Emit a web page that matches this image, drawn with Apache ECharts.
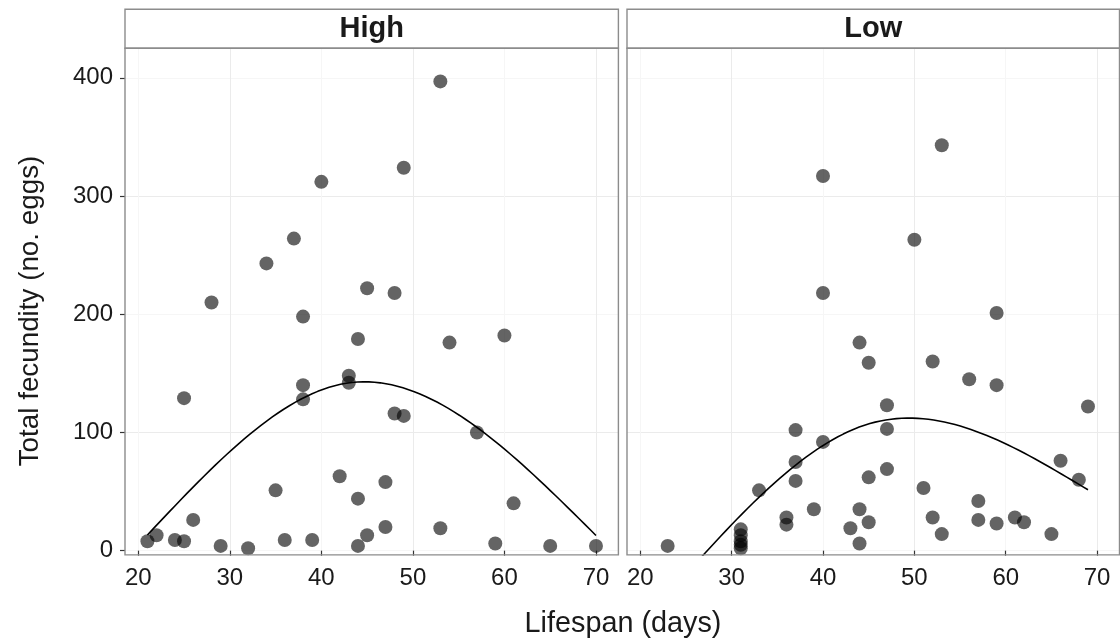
<!DOCTYPE html>
<html>
<head>
<meta charset="utf-8">
<script src="https://cdn.jsdelivr.net/npm/echarts@6.0.0/dist/echarts.min.js"></script>
<style>
  html, body { margin: 0; padding: 0; background: #fff; }
  #chart { width: 1120px; height: 644px; }
</style>
</head>
<body>
<div id="chart"></div>
<script>
// ---- data ----
const panels = ['High', 'Low'];
const highLifespan  = [21,22,24,25,25,26,28,29,32,34,35,36,37,38,38,38,39,40,42,43,43,44,44,44,45,45,47,47,48,48,49,49,53,53,54,57,59,60,61,65,70];
const highFecundity = [8,13,9,8,129,26,210,4,2,243,51,9,264,198,140,128,9,312,63,148,142,179,44,4,222,13,58,20,218,116,324,114,397,19,176,100,6,182,40,4,4];
const lowLifespan   = [23,31,31,31,31,31,33,36,36,37,37,37,39,40,40,40,43,44,44,44,45,45,45,47,47,47,50,51,52,52,53,53,56,57,57,59,59,59,61,62,65,66,68,69];
const lowFecundity  = [4,18,13,8,5,2,51,28,22,102,75,59,35,317,218,92,19,176,35,6,159,62,24,123,103,69,263,53,160,28,343,14,145,42,26,201,140,23,28,24,14,76,60,122];
const xTicks = [20, 30, 40, 50, 60, 70];
const yTicks = [0, 100, 200, 300, 400];
const xTitle = 'Lifespan (days)';
const yTitle = 'Total fecundity (no. eggs)';

// ---- smoother: least-squares natural cubic spline (2 df) fitted to the points ----
function solve(A, b) {
  const n = b.length;
  const M = A.map((r, i) => r.concat([b[i]]));
  for (let c = 0; c < n; c++) {
    let p = c;
    for (let r = c + 1; r < n; r++) if (Math.abs(M[r][c]) > Math.abs(M[p][c])) p = r;
    [M[c], M[p]] = [M[p], M[c]];
    for (let r = 0; r < n; r++) {
      if (r === c) continue;
      const f = M[r][c] / M[c][c];
      for (let k = c; k <= n; k++) M[r][k] -= f * M[c][k];
    }
  }
  return M.map((r, i) => r[n] / r[i]);
}
function quantile(xs, p) {
  const s = xs.slice().sort((a, b) => a - b);
  const h = (s.length - 1) * p, lo = Math.floor(h);
  return s[lo] + (h - lo) * (s[Math.min(lo + 1, s.length - 1)] - s[lo]);
}
function nsBasis(knots) {
  const K = knots.length, xiK = knots[K - 1];
  const cube = v => (v > 0 ? v * v * v : 0);
  const d = (k, x) => (cube(x - knots[k]) - cube(x - xiK)) / (xiK - knots[k]);
  return x => {
    const b = [1, x / 10];
    for (let k = 0; k < K - 2; k++) b.push((d(k, x) - d(K - 2, x)) / 1000);
    return b;
  };
}
function splineFit(xs, ys, df, nOut) {
  const lo = Math.min(...xs), hi = Math.max(...xs);
  const knots = [lo];
  for (let j = 1; j < df; j++) knots.push(quantile(xs, j / df));
  knots.push(hi);
  const basis = nsBasis(knots);
  const k = basis(xs[0]).length;
  const S = Array.from({ length: k }, () => new Array(k).fill(0)), T = new Array(k).fill(0);
  xs.forEach((x, i) => {
    const b = basis(x);
    for (let a = 0; a < k; a++) { T[a] += b[a] * ys[i]; for (let c = 0; c < k; c++) S[a][c] += b[a] * b[c]; }
  });
  const beta = solve(S, T);
  const out = [];
  for (let q = 0; q < nOut; q++) {
    const x = lo + (hi - lo) * q / (nOut - 1);
    out.push([x, basis(x).reduce((s, v, j) => s + v * beta[j], 0)]);
  }
  return out;
}

const zip = (a, b) => a.map((v, i) => [v, b[i]]);
const highPts = zip(highLifespan, highFecundity);
const lowPts = zip(lowLifespan, lowFecundity);
const highFit = splineFit(highLifespan, highFecundity, 2, 80);
const lowFit = splineFit(lowLifespan, lowFecundity, 2, 80);

// ---- layout ----
const FONT = '"Liberation Sans", Arial, Helvetica, sans-serif';
const gridLeft = [125, 627];
const gridWidth = [493.4, 492.5];
const gridTop = 48.3, gridHeight = 506.6;
const stripTop = 9.3;
const XMIN = 18.55, XMAX = 72.45, YMIN = -3.6, YMAX = 425;
const majorGrid = '#ebebeb', minorGrid = '#f6f6f6', borderCol = '#8c8c8c';

function xAxisFor(i) {
  return {
    type: 'value', gridIndex: i, min: XMIN, max: XMAX, splitNumber: 10,
    axisLine: { show: false },
    axisTick: { show: true, customValues: xTicks, length: 5, lineStyle: { color: '#333', width: 1.2 } },
    axisLabel: { show: true, customValues: xTicks, margin: 11, fontSize: 24, color: '#1a1a1a', fontFamily: FONT,
      formatter: v => (v % 10 === 0 ? String(v) : '') },
    splitLine: { show: true, lineStyle: { color: [minorGrid, majorGrid], width: 1 } }
  };
}
function yAxisFor(i) {
  const first = i === 0;
  return {
    type: 'value', gridIndex: i, min: YMIN, max: YMAX, splitNumber: 9,
    axisLine: { show: false },
    axisTick: { show: first, customValues: yTicks, length: 5, lineStyle: { color: '#333', width: 1.2 } },
    axisLabel: { show: first, customValues: yTicks, margin: 12, fontSize: 24, color: '#1a1a1a', fontFamily: FONT,
      formatter: v => (v % 100 === 0 ? String(v) : '') },
    splitLine: { show: true, lineStyle: { color: [minorGrid, majorGrid], width: 1 } }
  };
}

const graphics = [];
panels.forEach((name, i) => {
  graphics.push({
    type: 'rect', z: 100, silent: true,
    shape: { x: gridLeft[i], y: stripTop, width: gridWidth[i], height: gridTop - stripTop },
    style: { fill: '#ffffff', stroke: borderCol, lineWidth: 1.4 }
  });
  graphics.push({
    type: 'rect', z: 100, silent: true,
    shape: { x: gridLeft[i], y: gridTop, width: gridWidth[i], height: gridHeight },
    style: { fill: 'none', stroke: borderCol, lineWidth: 1.4 }
  });
  graphics.push({
    type: 'text', z: 101, silent: true,
    x: gridLeft[i] + gridWidth[i] / 2, y: (stripTop + gridTop) / 2,
    style: { text: name, fontSize: 29, fontWeight: 'bold', fontFamily: FONT, fill: '#1a1a1a',
      textAlign: 'center', textVerticalAlign: 'middle' }
  });
});
graphics.push({
  type: 'text', z: 101, silent: true, x: 623, y: 624,
  style: { text: xTitle, fontSize: 28.8, fontFamily: FONT, fill: '#1a1a1a', textAlign: 'center', textVerticalAlign: 'middle' }
});
graphics.push({
  type: 'text', z: 101, silent: true, x: 30, y: 311, rotation: Math.PI / 2,
  style: { text: yTitle, fontSize: 27.8, fontFamily: FONT, fill: '#1a1a1a', textAlign: 'center', textVerticalAlign: 'middle' }
});

const pointStyle = { color: 'rgba(0,0,0,0.76)' };
const lineStyle = { color: '#000', width: 1.6 };

const option = {
  animation: false,
  backgroundColor: '#ffffff',
  grid: panels.map((_, i) => ({ left: gridLeft[i], top: gridTop, width: gridWidth[i], height: gridHeight, show: false, containLabel: false })),
  xAxis: panels.map((_, i) => xAxisFor(i)),
  yAxis: panels.map((_, i) => yAxisFor(i)),
  graphic: graphics,
  series: [
    { type: 'scatter', name: 'High', xAxisIndex: 0, yAxisIndex: 0, data: highPts, symbolSize: 14, itemStyle: pointStyle, z: 3 },
    { type: 'line', name: 'High fit', xAxisIndex: 0, yAxisIndex: 0, data: highFit, showSymbol: false, symbol: 'none', lineStyle: lineStyle, clip: true, z: 4 },
    { type: 'scatter', name: 'Low', xAxisIndex: 1, yAxisIndex: 1, data: lowPts, symbolSize: 14, itemStyle: pointStyle, z: 3 },
    { type: 'line', name: 'Low fit', xAxisIndex: 1, yAxisIndex: 1, data: lowFit, showSymbol: false, symbol: 'none', lineStyle: lineStyle, clip: true, z: 4 }
  ]
};

const chart = echarts.init(document.getElementById('chart'), null, { renderer: 'canvas' });
chart.setOption(option);
</script>
</body>
</html>
